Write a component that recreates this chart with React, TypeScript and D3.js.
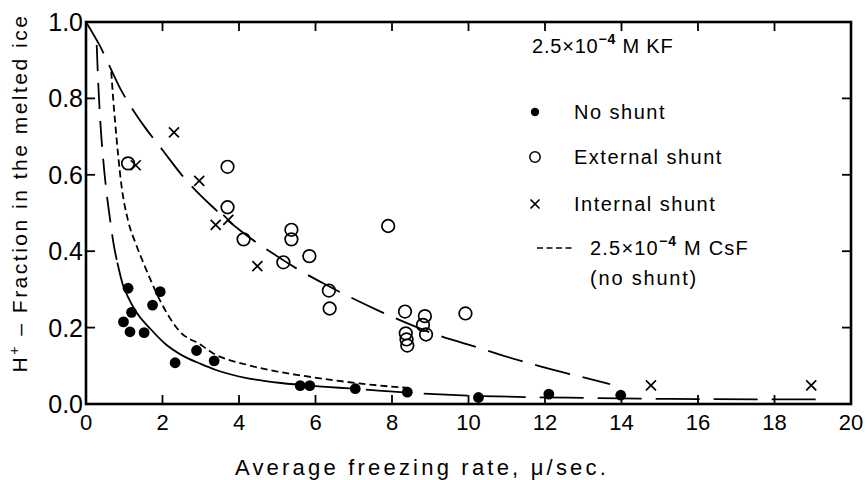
import React from 'react';
import * as d3 from 'd3';

// ---- data ----
const noShuntX = [0.98, 1.10, 1.19, 1.15, 1.52, 1.74, 1.94, 2.33, 2.89, 3.35, 5.6, 5.85, 7.04, 8.40, 10.26, 12.1, 13.98];
const noShuntY = [0.215, 0.303, 0.240, 0.189, 0.187, 0.259, 0.294, 0.108, 0.140, 0.113, 0.048, 0.048, 0.040, 0.031, 0.017, 0.026, 0.023];

const extShuntX = [1.10, 3.70, 3.70, 4.12, 5.37, 5.37, 5.16, 5.84, 7.90, 6.35, 6.37, 8.34, 8.36, 8.38, 8.40, 8.86, 8.81, 8.89, 9.92];
const extShuntY = [0.630, 0.621, 0.515, 0.431, 0.456, 0.431, 0.371, 0.387, 0.466, 0.297, 0.250, 0.242, 0.185, 0.169, 0.153, 0.230, 0.207, 0.182, 0.237];

const intShuntX = [1.30, 2.30, 2.96, 3.39, 3.72, 4.48, 14.77, 18.96];
const intShuntY = [0.625, 0.711, 0.584, 0.469, 0.482, 0.361, 0.049, 0.049];

// fitted curves
const shuntCurveX = [0, 0.35, 0.9, 1.5, 2.0, 2.5, 3.3, 4.1, 4.9, 5.5, 6.2, 6.7, 7.7, 9.2, 10.3, 10.8, 11.9, 12.4, 13.7];
const shuntCurveY = [1.0, 0.94, 0.825, 0.73, 0.665, 0.6, 0.517, 0.449, 0.393, 0.355, 0.316, 0.29, 0.242, 0.18, 0.146, 0.13, 0.098, 0.085, 0.052];

const kfLeftX = [0.28, 0.32, 0.38, 0.45, 0.53, 0.62, 0.72, 0.82];
const kfLeftY = [0.94, 0.84, 0.73, 0.64, 0.56, 0.49, 0.42, 0.37];

const kfSolidX = [0.82, 0.97, 1.1, 1.28, 1.7, 2.1, 2.5, 3.0, 3.4, 4.2, 4.7, 5.1, 6.0, 6.9];
const kfSolidY = [0.37, 0.31, 0.28, 0.246, 0.195, 0.155, 0.128, 0.105, 0.089, 0.068, 0.060, 0.055, 0.047, 0.041];

const kfRightX = [6.9, 8.5, 10, 11.6, 13, 14.5, 16, 17.5, 19.2];
const kfRightY = [0.041, 0.029, 0.022, 0.018, 0.016, 0.014, 0.013, 0.012, 0.012];

const csfX = [0.66, 0.71, 0.76, 0.93, 1.1, 1.3, 1.54, 1.93, 2.45, 3.0, 3.32, 4.2, 5.0, 5.6, 6.5, 7.5, 8.46];
const csfY = [0.87, 0.80, 0.74, 0.57, 0.48, 0.42, 0.36, 0.272, 0.19, 0.155, 0.133, 0.103, 0.085, 0.075, 0.062, 0.050, 0.042];

const xTicks = [0, 2, 4, 6, 8, 10, 12, 14, 16, 18, 20];
const yTicks = [0, 0.2, 0.4, 0.6, 0.8, 1.0];

const legendTitle = ['2.5×10', '−4', ' M KF'];
const legendLabels = ['No shunt', 'External shunt', 'Internal shunt'];
const legendCsF = ['2.5×10', '−4', ' M CsF'];
const legendCsF2 = '(no shunt)';
const xTitle = 'Average freezing rate,  μ/sec.';
const yTitle = ['H', '+', ' – Fraction in the melted ice'];

const W = 867, H = 480;
const L = 86, R = 851, T = 22, B = 404;
const FONT = '"Liberation Sans", Arial, sans-serif';

export default function App() {
  const x = d3.scaleLinear().domain([0, 20]).range([L, R]);
  const y = d3.scaleLinear().domain([0, 1]).range([B, T]);
  const line = d3.line<[number, number]>().x(d => x(d[0])).y(d => y(d[1])).curve(d3.curveMonotoneX);
  const pts = (xs: number[], ys: number[]) => xs.map((v, i) => [v, ys[i]] as [number, number]);
  const X = (cx: number, cy: number, s: number, key: any) => (
    <path key={key} d={`M${cx - s},${cy - s}L${cx + s},${cy + s}M${cx - s},${cy + s}L${cx + s},${cy - s}`} stroke="#000" strokeWidth={1.7} fill="none" />
  );
  const tickLen = 9;
  const legX = 535, textX = 574;
  const rowY = [112, 157, 204];
  return (
    <svg width={W} height={H} style={{ position: 'fixed', left: 0, top: 0, background: '#fff' }} fontFamily={FONT}>
      <rect x={0} y={0} width={W} height={H} fill="#fff" />
      {/* curves */}
      <path d={line(pts(shuntCurveX, shuntCurveY)) || ''} fill="none" stroke="#000" strokeWidth={1.8} strokeDasharray="36,13" />
      <path d={line(pts(kfLeftX, kfLeftY)) || ''} fill="none" stroke="#000" strokeWidth={1.8} strokeDasharray="26,12" />
      <path d={line(pts(kfSolidX, kfSolidY)) || ''} fill="none" stroke="#000" strokeWidth={1.8} />
      <path d={line(pts(kfRightX, kfRightY)) || ''} fill="none" stroke="#000" strokeWidth={1.8} strokeDasharray="44,14" strokeDashoffset={-16} />
      <path d={line(pts(csfX, csfY)) || ''} fill="none" stroke="#000" strokeWidth={1.8} strokeDasharray="7,4" />
      {/* markers */}
      {noShuntX.map((v, i) => <circle key={'n' + i} cx={x(v)} cy={y(noShuntY[i])} r={5.4} fill="#000" />)}
      {extShuntX.map((v, i) => <circle key={'e' + i} cx={x(v)} cy={y(extShuntY[i])} r={6.3} fill="none" stroke="#000" strokeWidth={1.7} />)}
      {intShuntX.map((v, i) => X(x(v), y(intShuntY[i]), 5, 'i' + i))}
      {/* frame */}
      <rect x={L} y={T} width={R - L} height={B - T} fill="none" stroke="#000" strokeWidth={2.6} />
      {xTicks.slice(1, -1).map(t => (
        <g key={'xt' + t}>
          <line x1={x(t)} x2={x(t)} y1={B} y2={B - tickLen} stroke="#000" strokeWidth={1.8} />
          <line x1={x(t)} x2={x(t)} y1={T} y2={T + tickLen} stroke="#000" strokeWidth={1.8} />
        </g>
      ))}
      {yTicks.slice(1, -1).map(t => (
        <g key={'yt' + t}>
          <line x1={L} x2={L + tickLen} y1={y(t)} y2={y(t)} stroke="#000" strokeWidth={1.8} />
          <line x1={R} x2={R - tickLen} y1={y(t)} y2={y(t)} stroke="#000" strokeWidth={1.8} />
        </g>
      ))}
      {xTicks.map(t => (
        <text key={'xl' + t} x={x(t)} y={430} textAnchor="middle" fontSize={22}>{t}</text>
      ))}
      {yTicks.map(t => (
        <text key={'yl' + t} x={83} y={y(t) + 9} textAnchor="end" fontSize={25}>{t.toFixed(1)}</text>
      ))}
      {/* axis titles */}
      <text x={422} y={475} textAnchor="middle" fontSize={22} letterSpacing={3.2}>{xTitle}</text>
      <text transform={`translate(27,193) rotate(-90)`} textAnchor="middle" fontSize={21} letterSpacing={2.5}>
        {yTitle[0]}<tspan dy={-8} fontSize={14}>{yTitle[1]}</tspan><tspan dy={8}>{yTitle[2]}</tspan>
      </text>
      {/* legend */}
      <text x={532} y={53} fontSize={20} letterSpacing={0.8}>
        {legendTitle[0]}<tspan dy={-9} fontSize={14} fontWeight="bold">{legendTitle[1]}</tspan><tspan dy={9}>{legendTitle[2]}</tspan>
      </text>
      <circle cx={legX} cy={rowY[0]} r={4.2} fill="#000" />
      <circle cx={legX} cy={rowY[1]} r={5.2} fill="none" stroke="#000" strokeWidth={1.5} />
      {X(legX, rowY[2], 4.5, 'lx')}
      {legendLabels.map((s, i) => (
        <text key={'ll' + i} x={textX} y={rowY[i] + 7} fontSize={20} letterSpacing={1.5}>{s}</text>
      ))}
      <line x1={537} x2={573} y1={248} y2={248} stroke="#000" strokeWidth={1.6} strokeDasharray="6,3.5" />
      <text x={590} y={255} fontSize={20} letterSpacing={1.2}>
        {legendCsF[0]}<tspan dy={-9} fontSize={14} fontWeight="bold">{legendCsF[1]}</tspan><tspan dy={9}>{legendCsF[2]}</tspan>
      </text>
      <text x={590} y={285} fontSize={20} letterSpacing={1.8}>{legendCsF2}</text>
    </svg>
  );
}
